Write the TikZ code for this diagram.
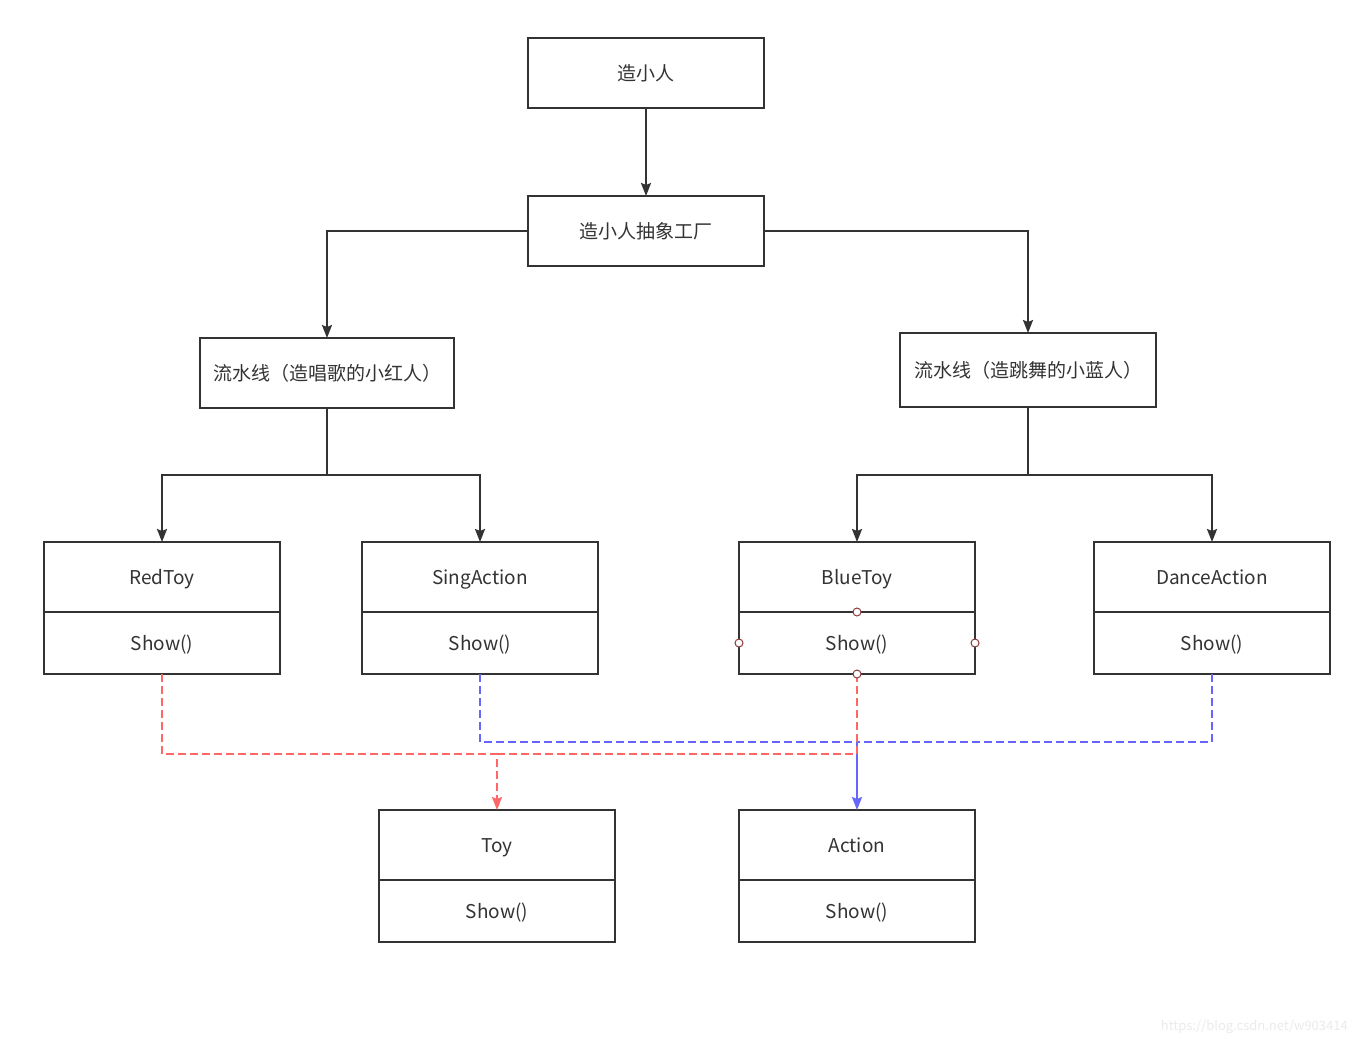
\documentclass[tikz,border=0pt]{standalone}
\usepackage{fontspec}
\setmainfont{Noto Sans CJK SC}
\usetikzlibrary{positioning,arrows.meta}
\definecolor{linegray}{HTML}{333333}
\definecolor{redflowc}{HTML}{FF6666}
\definecolor{blueflowc}{HTML}{6666FF}
\definecolor{portred}{HTML}{8B3A3A}
\tikzset{
    tip/.style={-{Stealth[length=13pt,width=10pt,inset=2pt]}},
    every node/.style={text=linegray, font=\fontsize{19}{23}\selectfont},
    factorybox/.style={
        rectangle,
        draw=linegray, line width=2pt,
        minimum width=236pt,
        minimum height=70pt,
        text height=16pt, text depth=2pt,
        inner sep=0pt, outer sep=0pt
    },
    classhead/.style={
        rectangle,
        draw=linegray, line width=2pt,
        minimum width=236pt,
        minimum height=70pt,
        text height=16pt, text depth=2pt,
        inner sep=0pt, outer sep=0pt
    },
    classbody/.style={
        classhead,
        minimum height=62pt
    },
    line/.style={draw=linegray, line width=2pt, tip},
    redflow/.style={draw=redflowc, line width=2pt, dash pattern=on 8pt off 4pt},
    blueflow/.style={draw=blueflowc, line width=2pt, dash pattern=on 8pt off 4pt},
    port/.style={circle, draw=portred, fill=white, line width=1pt,
        minimum size=8pt, inner sep=0pt}
}
\begin{document}
\begin{tikzpicture}[x=1pt,y=-1pt]
    \useasboundingbox[fill=white] (0,0) rectangle (1356,1044);

    % -- factories -- %
    \node[factorybox] (maker) at (646,73) {造小人};
    \node[factorybox] (abstract) at (646,231) {造小人抽象工厂};
    \node[factorybox, minimum width=254pt] (redline) at (327,373)
        {流水线（造唱歌的小红人）};
    \node[factorybox, minimum width=256pt, minimum height=74pt] (blueline) at (1028,370)
        {流水线（造跳舞的小蓝人）};

    % -- products -- %
    \node[classhead] (redtoy) at (162,577) {RedToy};
    \node[classbody, below=0pt of redtoy] (redtoyshow) {Show()};
    \node[classhead] (sing) at (480,577) {SingAction};
    \node[classbody, below=0pt of sing] (singshow) {Show()};
    \node[classhead] (bluetoy) at (857,577) {BlueToy};
    \node[classbody, below=0pt of bluetoy] (bluetoyshow) {Show()};
    \node[classhead] (dance) at (1212,577) {DanceAction};
    \node[classbody, below=0pt of dance] (danceshow) {Show()};

    % -- interfaces -- %
    \node[classhead] (toy) at (497,845) {Toy};
    \node[classbody, below=0pt of toy] (toyshow) {Show()};
    \node[classhead] (action) at (857,845) {Action};
    \node[classbody, below=0pt of action] (actionshow) {Show()};

    % -- factory connectors -- %
    \draw[line] (maker) -- (abstract);
    \draw[line] (abstract.west) -| (redline.north);
    \draw[line] (abstract.east) -| (blueline.north);
    \draw[line] (redline.south) |- (327,475) -| (redtoy.north);
    \draw[line] (redline.south) |- (327,475) -| (sing.north);
    \draw[line] (blueline.south) |- (1028,475) -| (bluetoy.north);
    \draw[line] (blueline.south) |- (1028,475) -| (dance.north);

    % -- realisation -- %
    \coordinate (redbus) at (497,754);
    \coordinate (bluebus) at (857,742);
    \draw[blueflow] (singshow.south) |- (bluebus);
    \draw[blueflow] (danceshow.south) |- (bluebus);
    \draw[draw=blueflowc, line width=2pt, tip] (bluebus) -- (action.north);
    \draw[redflow, tip] (redtoyshow.south) |- (redbus) -- (toy.north);
    \draw[redflow] (bluetoyshow.south) |- (redbus);

    % -- selection handles -- %
    \node[port] at (bluetoy.south) {};
    \node[port] at (bluetoyshow.west) {};
    \node[port] at (bluetoyshow.east) {};
    \node[port] at (bluetoyshow.south) {};

    \node[anchor=south east, inner sep=0pt, text=black!8,
        font=\fontsize{13}{15}\selectfont] (mark) at (1348,1034)
        {https://blog.csdn.net/w903414};
\end{tikzpicture}
\end{document}
